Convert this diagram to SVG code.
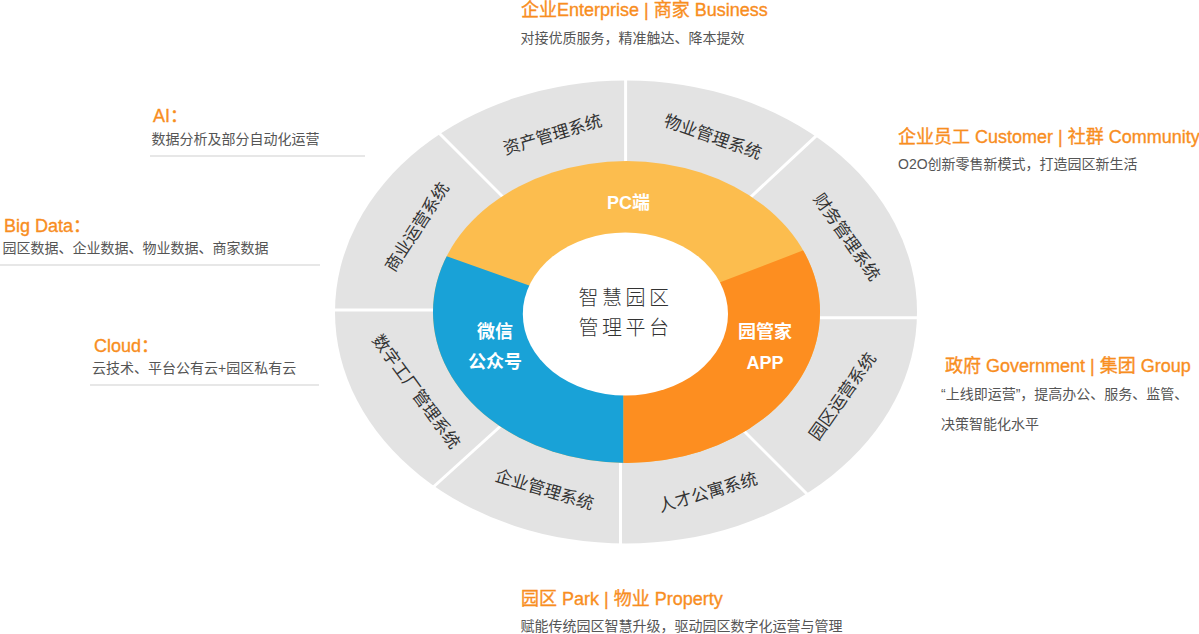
<svg xmlns="http://www.w3.org/2000/svg" width="1199" height="634" viewBox="0 0 1199 634">
<defs>
<style>
text{font-family:"Liberation Sans","Noto Sans CJK SC",sans-serif;}
.ttl{font-size:18px;fill:#F88E1F;stroke:#F88E1F;stroke-width:0.35px;}
.sub{font-size:14px;fill:#555;}
.seg{font-size:17px;fill:#333;}
.ring{font-size:18px;fill:#fff;font-weight:bold;}
.ctr{font-size:20px;fill:#333;font-weight:300;letter-spacing:3.5px;}
.rule{stroke:#cfcfcf;stroke-width:1;}
.spoke{stroke:#fff;stroke-width:3;}
</style>
<clipPath id="ringClip"><ellipse cx="626.5" cy="312" rx="193.5" ry="151"/></clipPath>
</defs>
<rect width="1199" height="634" fill="#fff"/>

<g id="outer-ring">
<ellipse cx="626" cy="312" rx="291" ry="231.5" fill="#e3e3e3"/>
</g>

<g id="connectors">
<line class="spoke" x1="625.6" y1="70" x2="625.6" y2="170"/>
<line class="spoke" x1="432" y1="126" x2="510" y2="204"/>
<line class="spoke" x1="820" y1="132.4" x2="740" y2="207"/>
<line class="spoke" x1="328" y1="310" x2="442" y2="310"/>
<line class="spoke" x1="812" y1="317.7" x2="925" y2="317.7"/>
<line class="spoke" x1="430" y1="490" x2="510" y2="417.6"/>
<line class="spoke" x1="812" y1="499" x2="736" y2="423"/>
<line class="spoke" x1="620.5" y1="455" x2="620.5" y2="552"/>
</g>

<g id="seg-asset"><text class="seg" text-anchor="middle" dominant-baseline="central" transform="translate(552.7,135) rotate(-16.5)">资产管理系统</text></g>
<g id="seg-property"><text class="seg" text-anchor="middle" dominant-baseline="central" transform="translate(712.7,137.3) rotate(19.4)">物业管理系统</text></g>
<g id="seg-finance"><text class="seg" text-anchor="middle" dominant-baseline="central" transform="translate(846.6,237.3) rotate(55)">财务管理系统</text></g>
<g id="seg-park-ops"><text class="seg" text-anchor="middle" dominant-baseline="central" transform="translate(842.8,396.7) rotate(-54.8)">园区运营系统</text></g>
<g id="seg-apartment"><text class="seg" text-anchor="middle" dominant-baseline="central" transform="translate(708,492.7) rotate(-16.2)">人才公寓系统</text></g>
<g id="seg-enterprise"><text class="seg" text-anchor="middle" dominant-baseline="central" transform="translate(544.3,490) rotate(16.8)">企业管理系统</text></g>
<g id="seg-factory"><text class="seg" text-anchor="middle" dominant-baseline="central" transform="translate(416,391.7) rotate(54)">数字工厂管理系统</text></g>
<g id="seg-commerce"><text class="seg" text-anchor="middle" dominant-baseline="central" transform="translate(417.3,227.3) rotate(-57)">商业运营系统</text></g>

<g id="ring-pc">
<ellipse cx="626.5" cy="312" rx="193.5" ry="151" fill="#FCBD4E"/>
<text class="ring" x="628.5" y="208.5" text-anchor="middle">PC端</text>
</g>
<g id="ring-wechat">
<polygon points="624,319 90,130 90,700 623.5,700 623.5,319" fill="#19A2D7" clip-path="url(#ringClip)"/>
<text class="ring" x="495" y="338" text-anchor="middle">微信</text>
<text class="ring" x="495" y="368" text-anchor="middle">公众号</text>
</g>
<g id="ring-app">
<polygon points="624,319 1157,115 1157,700 623.5,700 623.5,319" fill="#FD8E20" clip-path="url(#ringClip)"/>
<text class="ring" x="765" y="338" text-anchor="middle">园管家</text>
<text class="ring" x="765" y="368.5" text-anchor="middle">APP</text>
</g>

<g id="center">
<ellipse cx="625.4" cy="314" rx="102.6" ry="81.5" fill="#fff"/>
<text class="ctr" x="625.5" y="304.5" text-anchor="middle">智慧园区</text>
<text class="ctr" x="625.5" y="334.5" text-anchor="middle">管理平台</text>
</g>

<g id="label-top">
<text class="ttl" x="521" y="16">企业Enterprise | 商家 Business</text>
<text class="sub" x="520.5" y="42.5">对接优质服务，精准触达、降本提效</text>
</g>
<g id="label-bottom">
<text class="ttl" x="521" y="605">园区 Park | 物业 Property</text>
<text class="sub" x="520.5" y="631">赋能传统园区智慧升级，驱动园区数字化运营与管理</text>
</g>
<g id="label-customer">
<text class="ttl" x="898" y="143">企业员工 Customer | 社群 Community</text>
<text class="sub" x="898" y="169">O2O创新零售新模式，打造园区新生活</text>
</g>
<g id="label-government">
<text class="ttl" x="945" y="372">政府 Government | 集团 Group</text>
<text class="sub" x="941" y="399">“上线即运营”，提高办公、服务、监管、</text>
<text class="sub" x="941" y="429">决策智能化水平</text>
</g>
<g id="label-ai">
<text class="ttl" x="153" y="121.5">AI：</text>
<text class="sub" x="151.5" y="143.5">数据分析及部分自动化运营</text>
<line class="rule" x1="150" y1="156" x2="365" y2="156"/>
</g>
<g id="label-bigdata">
<text class="ttl" x="4" y="231.5">Big Data：</text>
<text class="sub" x="2.5" y="252.5">园区数据、企业数据、物业数据、商家数据</text>
<line class="rule" x1="0" y1="265" x2="320" y2="265"/>
</g>
<g id="label-cloud">
<text class="ttl" x="94" y="352">Cloud：</text>
<text class="sub" x="92" y="373">云技术、平台公有云+园区私有云</text>
<line class="rule" x1="90" y1="385" x2="319" y2="385"/>
</g>
</svg>
